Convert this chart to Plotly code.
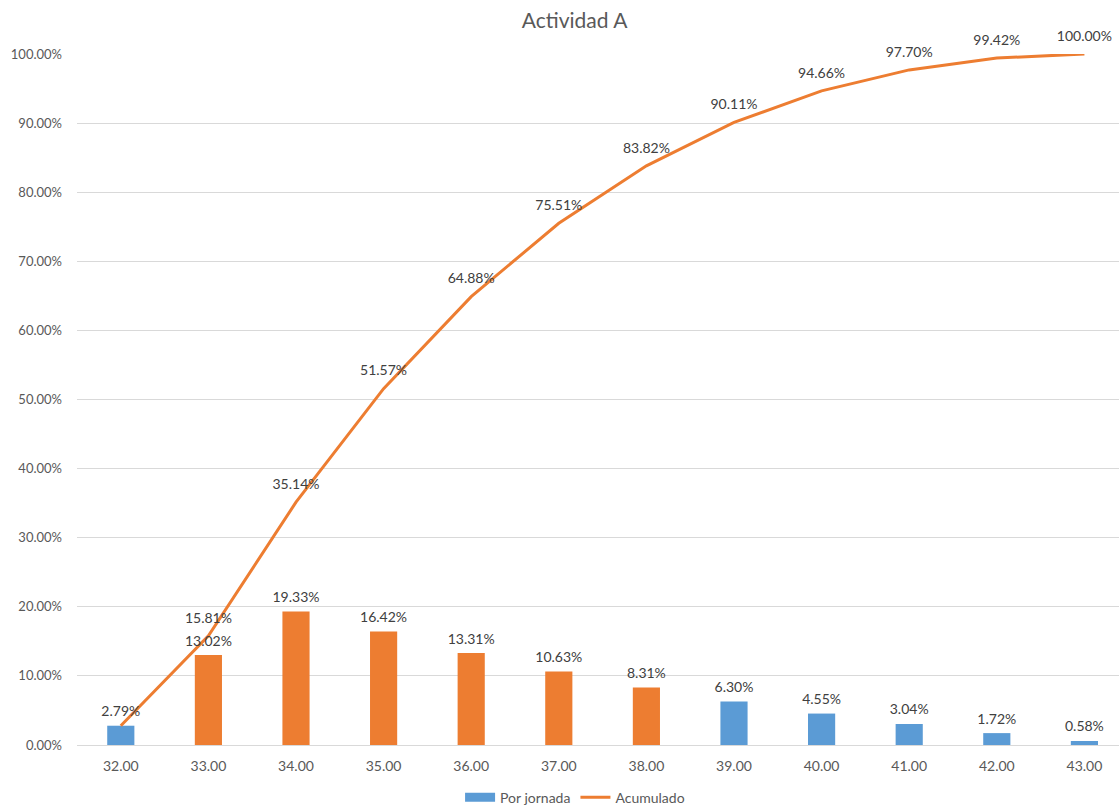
import plotly.graph_objects as go

categories = ["32.00", "33.00", "34.00", "35.00", "36.00", "37.00", "38.00",
              "39.00", "40.00", "41.00", "42.00", "43.00"]
por_jornada = [2.79, 13.02, 19.33, 16.42, 13.31, 10.63, 8.31, 6.30, 4.55, 3.04, 1.72, 0.58]
acumulado = [2.79, 15.81, 35.14, 51.57, 64.88, 75.51, 83.82, 90.11, 94.66, 97.70, 99.42, 100.00]
bar_colors = ["#5B9BD5", "#ED7D31", "#ED7D31", "#ED7D31", "#ED7D31", "#ED7D31", "#ED7D31",
              "#5B9BD5", "#5B9BD5", "#5B9BD5", "#5B9BD5", "#5B9BD5"]
y_ticks = [0, 10, 20, 30, 40, 50, 60, 70, 80, 90, 100]

FONT = "Lato, 'Open Sans', sans-serif"

fig = go.Figure()
fig.add_trace(go.Bar(
    x=categories, y=[v / 100 for v in por_jornada], name="Por jornada",
    marker=dict(color=bar_colors, line=dict(width=0)),
    width=0.31, showlegend=False,
))
# legend swatch for the bars (wide rectangle, like the reference)
fig.add_trace(go.Scatter(
    x=[None], y=[None], name="Por jornada", mode="lines",
    line=dict(color="#5B9BD5", width=9), hoverinfo="skip",
))
fig.add_trace(go.Scatter(
    x=categories, y=[v / 100 for v in acumulado], name="Acumulado",
    mode="lines",
    line=dict(color="#ED7D31", width=3),
))
# bar value labels
fig.add_trace(go.Scatter(
    x=categories, y=[v / 100 for v in por_jornada], showlegend=False, hoverinfo="skip",
    mode="markers+text",
    marker=dict(size=8, opacity=0),
    text=[f"{v:.2f}%" for v in por_jornada], textposition="top center",
    textfont=dict(size=14, color="#404040", family=FONT),
    cliponaxis=False,
))
# cumulative labels (first point coincides with the bar label)
acc_text = [f"{v:.2f}%" for v in acumulado]
acc_text[0] = ""
fig.add_trace(go.Scatter(
    x=categories, y=[v / 100 for v in acumulado], showlegend=False, hoverinfo="skip",
    mode="markers+text",
    marker=dict(size=14, opacity=0),
    text=acc_text, textposition="top center",
    textfont=dict(size=14, color="#404040", family=FONT),
    cliponaxis=False,
))
fig.update_layout(
    width=1120, height=809,
    margin=dict(l=77, r=1, t=54, b=64),
    paper_bgcolor="white", plot_bgcolor="white",
    font=dict(family=FONT, color="#595959", size=13),
    title=dict(text="Actividad A", x=0.513, xanchor="center", y=0.975, yanchor="middle",
               font=dict(size=21, color="#595959", family=FONT)),
    showlegend=True,
    legend=dict(orientation="h", x=0.478, xanchor="center", yref="container", y=0.014,
                yanchor="middle", font=dict(size=14, color="#595959", family=FONT),
                itemwidth=30, tracegroupgap=0),
)
fig.update_xaxes(type="category", range=[-0.5, 11.395], showgrid=False,
                 showline=True, linecolor="#D9D9D9", linewidth=1, ticks="",
                 ticklabelstandoff=8,
                 tickfont=dict(size=14, color="#595959"))
fig.update_yaxes(range=[0, 1], tickvals=[t / 100 for t in y_ticks],
                 ticktext=[f"{t:.2f}%" for t in y_ticks],
                 showgrid=True, gridcolor="#D9D9D9", gridwidth=1, zeroline=False,
                 ticks="", ticklabelstandoff=14,
                 tickfont=dict(size=13, color="#595959"))
fig.write_html("out.html")
